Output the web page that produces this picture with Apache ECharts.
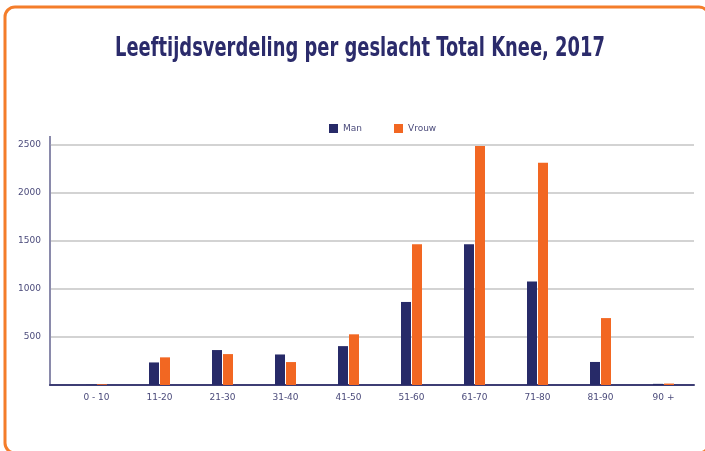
<!DOCTYPE html>
<html>
<head>
<meta charset="utf-8">
<title>Leeftijdsverdeling per geslacht Total Knee, 2017</title>
<script src="https://cdn.jsdelivr.net/npm/echarts@6.0.0/dist/echarts.min.js"></script>
<style>
    html, body { margin: 0; padding: 0; background: #fff; }
    #kneeChart { width: 705px; height: 451px; }
</style>
</head>
<body>
<div id="kneeChart"></div>
<script>
// leeftijdsgroepen
var categories = ['0 - 10', '11-20', '21-30', '31-40', '41-50', '51-60', '61-70', '71-80', '81-90', '90 +'];
// aantallen per geslacht
var man = [2, 235, 364, 318, 405, 865, 1466, 1079, 240, 12];
var vrouw = [8, 288, 322, 239, 528, 1466, 2490, 2316, 697, 15];
var seriesNames = ['Man', 'Vrouw'];
var yTicks = [0, 500, 1000, 1500, 2000, 2500];

var navy = '#272a68';
var orange = '#f26722';
var labelColor = '#4b4b7b';

window.onload = function () {
    kneeChartShow();
}

function kneeChartShow() {
    var myChart = echarts.init(document.getElementById('kneeChart'));

    var option = {
        animation: false,
        graphic: [
            {
                // oranje kader
                type: 'rect',
                shape: {x: 5, y: 7, width: 704, height: 446, r: 10},
                style: {fill: 'none', stroke: '#f47d2a', lineWidth: 3}
            },
            {
                // smalle vette titel
                type: 'text',
                x: 360,
                y: 49,
                scaleX: 0.765,
                style: {
                    text: 'Leeftijdsverdeling per geslacht Total Knee, 2017',
                    fontFamily: 'Liberation Sans Narrow, DejaVu Sans Condensed, sans-serif',
                    fontWeight: 'bold',
                    fontSize: 26,
                    fill: '#2b2b6b',
                    align: 'center',
                    verticalAlign: 'middle'
                }
            },
            {
                // y-as loopt iets door boven 2500
                type: 'line',
                shape: {x1: 50, y1: 136, x2: 50, y2: 146},
                style: {stroke: '#8a8aab', lineWidth: 2}
            }
        ],
        legend: {
            data: seriesNames,
            left: 324,
            top: 119,
            itemWidth: 9,
            itemHeight: 9,
            itemGap: 32,
            icon: 'rect',
            textStyle: {fontFamily: 'DejaVu Sans', fontSize: 9, color: labelColor}
        },
        grid: [
            // assen en rasterlijnen
            {left: 50, right: 11, top: 145, bottom: 66},
            // staven
            {left: 65, right: 10, top: 145, bottom: 66}
        ],
        xAxis: [
            {
                gridIndex: 0,
                type: 'value',
                min: 0,
                max: 1,
                axisLine: {show: true, lineStyle: {color: '#3d3d74', width: 2}},
                axisTick: {show: false},
                axisLabel: {show: false},
                splitLine: {show: false}
            },
            {
                gridIndex: 1,
                type: 'category',
                data: categories,
                axisLine: {show: false},
                axisTick: {show: false},
                axisLabel: {
                    fontFamily: 'DejaVu Sans',
                    fontSize: 9,
                    color: labelColor,
                    margin: 8,
                    interval: 0
                }
            }
        ],
        yAxis: [
            {
                gridIndex: 0,
                type: 'value',
                min: yTicks[0],
                max: yTicks[yTicks.length - 1],
                interval: 500,
                axisLine: {show: true, lineStyle: {color: '#8a8aab', width: 2}},
                axisTick: {show: false},
                axisLabel: {
                    fontFamily: 'DejaVu Sans',
                    fontSize: 9,
                    color: labelColor,
                    margin: 9,
                    formatter: function (v) {
                        return v === 0 ? '' : String(v);
                    }
                },
                splitLine: {lineStyle: {color: '#c4c4c4', width: 1.5}}
            },
            {
                gridIndex: 1,
                type: 'value',
                min: yTicks[0],
                max: yTicks[yTicks.length - 1],
                show: false
            }
        ],
        series: [
            {
                name: seriesNames[0],
                type: 'bar',
                xAxisIndex: 1,
                yAxisIndex: 1,
                data: man,
                barWidth: 10,
                barGap: '10%',
                itemStyle: {color: navy}
            },
            {
                name: seriesNames[1],
                type: 'bar',
                xAxisIndex: 1,
                yAxisIndex: 1,
                data: vrouw,
                barWidth: 10,
                barGap: '10%',
                itemStyle: {color: orange}
            }
        ]
    };

    myChart.setOption(option);
}
</script>
</body>
</html>
